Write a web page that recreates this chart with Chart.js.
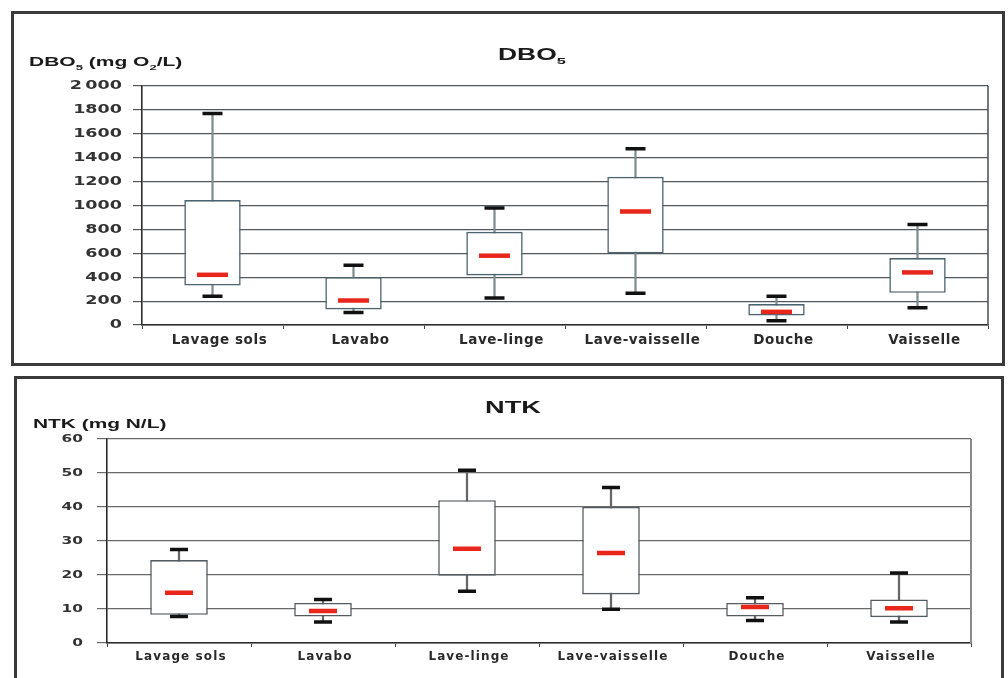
<!DOCTYPE html>
<html>
<head>
<meta charset="utf-8">
<script src="https://cdn.jsdelivr.net/npm/chart.js@4/dist/chart.umd.min.js"></script>
<style>
  html, body { margin: 0; padding: 0; background: #fff; width: 1008px; height: 678px; overflow: hidden; }
  .frame { position: absolute; box-sizing: border-box; pointer-events: none; }
</style>
</head>
<body>
<div style="position:absolute;left:0;top:0;width:1008px;height:370px;"><canvas id="c1" width="1008" height="370"></canvas></div>
<div style="position:absolute;left:0;top:370px;width:1008px;height:308px;"><canvas id="c2" width="1008" height="308"></canvas></div>
<div class="frame" style="left:11px;top:11px;width:994px;height:355px;border:3px solid #3a3a3a;"></div>
<div class="frame" style="left:14px;top:376px;width:990px;height:400px;border:3px solid #3a3a3a;"></div>
<script>
// ---------- data ----------
const categories = ['Lavage sols', 'Lavabo', 'Lave-linge', 'Lave-vaisselle', 'Douche', 'Vaisselle'];

const dboMin = [240, 105, 225, 265, 35, 145];
const dboQ1  = [330, 130, 415, 600, 80, 270];
const dboMed = [420, 205, 580, 950, 110, 440];
const dboQ3  = [1045, 400, 780, 1240, 175, 560];
const dboMax = [1770, 500, 980, 1475, 240, 840];

const ntkMin = [7.8, 6.2, 15.2, 9.9, 6.6, 6.2];
const ntkQ1  = [8.3, 7.8, 19.8, 14.3, 7.8, 7.6];
const ntkMed = [14.8, 9.4, 27.7, 26.5, 10.6, 10.2];
const ntkQ3  = [24.4, 11.8, 42.0, 40.0, 11.8, 12.8];
const ntkMax = [27.5, 12.8, 50.8, 45.7, 13.3, 20.6];

const dboTicks = { min: 0, max: 2000, step: 200 };
const ntkTicks = { min: 0, max: 60, step: 10 };

const FONT = '"Liberation Sans", Arial, sans-serif';
const TICKFONT = '"DejaVu Sans", "Liberation Sans", sans-serif';

// draw text with subscripts, horizontally stretched
function drawRich(ctx, x, y, parts, size, sx, color) {
  ctx.save();
  ctx.translate(x, y);
  ctx.scale(sx, 1);
  ctx.fillStyle = color;
  ctx.textBaseline = 'alphabetic';
  ctx.textAlign = 'left';
  let cx = 0;
  for (const p of parts) {
    const s = p.sub ? size * 0.62 : size;
    ctx.font = 'bold ' + s + 'px ' + FONT;
    ctx.fillText(p.t, cx, p.sub ? size * 0.28 : 0);
    cx += ctx.measureText(p.t).width;
  }
  ctx.restore();
}

function makeChart(id, cfg) {
  const ticks = cfg.ticks;
  const plugin = {
    id: 'deco',
    afterUpdate(chart) {
      const y = chart.scales.y, x = chart.scales.x;
      if (!y._patched) {
        const origY = y.drawLabels;
        y.drawLabels = function (area) {
          const ctx = this.ctx;
          const ax = this.right - cfg.yTickLen - cfg.yPad;
          ctx.save();
          ctx.translate(ax, 0); ctx.scale(cfg.ySx, 1); ctx.translate(-ax, 0);
          origY.call(this, area);
          ctx.restore();
        };
        y._patched = true;
      }
      if (!x._patched) {
        const origX = x.drawLabels;
        x.drawLabels = function (area) {
          const ctx = this.ctx;
          ctx.save();
          ctx.translate(cfg.xShift, 0);
          try { ctx.letterSpacing = cfg.xSpacing + 'px'; } catch (e) {}
          origX.call(this, area);
          ctx.restore();
        };
        x._patched = true;
      }
    },
    afterDraw(chart) {
      const ctx = chart.ctx, a = chart.chartArea;
      ctx.save();
      ctx.strokeStyle = cfg.rightColor;
      ctx.lineWidth = cfg.rightWidth;
      ctx.beginPath();
      ctx.moveTo(a.right, a.top);
      ctx.lineTo(a.right, a.bottom);
      ctx.stroke();
      ctx.restore();
      drawRich(ctx, cfg.title.x, cfg.title.y, cfg.title.parts, cfg.title.size, cfg.title.sx, '#1a1a1a');
      drawRich(ctx, cfg.axisTitle.x, cfg.axisTitle.y, cfg.axisTitle.parts, cfg.axisTitle.size, cfg.axisTitle.sx, '#1a1a1a');
    }
  };

  return new Chart(document.getElementById(id), {
    type: 'bar',
    data: {
      labels: categories,
      datasets: [
        { type: 'line', data: cfg.med, showLine: false, pointStyle: 'line', pointRadius: cfg.medR, pointBorderWidth: 4.5,
          pointBorderColor: '#e8261c', pointBackgroundColor: '#e8261c', order: 1 },
        { type: 'line', data: cfg.max, showLine: false, pointStyle: 'line', pointRadius: cfg.capR, pointBorderWidth: 3.5,
          pointBorderColor: '#111', order: 2 },
        { type: 'line', data: cfg.min, showLine: false, pointStyle: 'line', pointRadius: cfg.capR, pointBorderWidth: 3.5,
          pointBorderColor: '#111', order: 2 },
        { type: 'bar', data: cfg.q1.map((v, i) => [v, cfg.q3[i]]), backgroundColor: '#ffffff', borderColor: cfg.boxColor,
          borderWidth: 1.6, borderSkipped: false, barPercentage: 0.4, categoryPercentage: 1, grouped: false, order: 3 },
        { type: 'bar', data: cfg.min.map((v, i) => [v, cfg.max[i]]), backgroundColor: cfg.stemColor,
          barThickness: 1.6, grouped: false, order: 4 }
      ]
    },
    options: {
      responsive: false,
      animation: false,
      events: [],
      layout: { padding: cfg.padding },
      plugins: { legend: { display: false }, tooltip: { enabled: false } },
      scales: {
        x: {
          offset: true,
          afterFit(s) { s.height = cfg.xHeight; },
          grid: { display: true, drawOnChartArea: false, drawTicks: true, tickLength: 4, color: '#444', offset: true },
          border: { display: true, color: '#2c2c2c', width: 1.6 },
          ticks: { color: '#2a2a2a', font: { family: TICKFONT, size: cfg.xFont, weight: 'bold' }, padding: cfg.xPad, maxRotation: 0, autoSkip: false }
        },
        y: {
          min: ticks.min, max: ticks.max,
          afterFit(s) { s.width = cfg.yWidth; },
          afterBuildTicks(s) {
            const t = [];
            for (let v = ticks.min; v <= ticks.max + 1e-9; v += ticks.step) t.push({ value: v });
            s.ticks = t;
          },
          grid: { color: cfg.gridColor, lineWidth: 1.2, tickLength: cfg.yTickLen },
          border: { display: true, color: '#2c2c2c', width: 1.6 },
          ticks: {
            color: '#333',
            padding: cfg.yPad,
            font: { family: TICKFONT, size: cfg.yFont, weight: 'bold' },
            callback: cfg.tickFmt
          }
        }
      }
    },
    plugins: [plugin]
  });
}

makeChart('c1', {
  ticks: dboTicks,
  min: dboMin, q1: dboQ1, med: dboMed, q3: dboQ3, max: dboMax,
  padding: { top: 86, right: 13, left: 0, bottom: 0 },
  yWidth: 142, xHeight: 45, yTickLen: 9, yPad: 11, ySx: 1.35, yFont: 13,
  xFont: 13.5, xPad: 3, xSpacing: 0.6, xShift: 7,
  medR: 15.5, capR: 10,
  boxColor: '#4c6470', stemColor: '#7f8c92', gridColor: '#50575c',
  rightColor: '#50575c', rightWidth: 1.6,
  tickFmt: v => (v === 2000 ? '2\u2009000' : String(v)),
  title: { x: 498, y: 60, size: 16, sx: 1.65, parts: [{ t: 'DBO' }, { t: '5', sub: true }] },
  axisTitle: { x: 29, y: 66, size: 12.5, sx: 1.68,
    parts: [{ t: 'DBO' }, { t: '5', sub: true }, { t: ' (mg O' }, { t: '2', sub: true }, { t: '/L)' }] }
});

makeChart('c2', {
  ticks: ntkTicks,
  min: ntkMin, q1: ntkQ1, med: ntkMed, q3: ntkQ3, max: ntkMax,
  padding: { top: 69, right: 37, left: 0, bottom: 0 },
  yWidth: 107, xHeight: 35, yTickLen: 10, yPad: 14, ySx: 1.4, yFont: 11,
  xFont: 12, xPad: 3, xSpacing: 1.1, xShift: 2,
  medR: 14, capR: 9,
  boxColor: '#555b5f', stemColor: '#666', gridColor: '#6a6a6a',
  rightColor: '#8a8a8a', rightWidth: 2,
  tickFmt: v => String(v),
  title: { x: 485, y: 43, size: 16, sx: 1.7, parts: [{ t: 'NTK' }] },
  axisTitle: { x: 33, y: 58, size: 12.5, sx: 1.67, parts: [{ t: 'NTK (mg N/L)' }] }
});
</script>
</body>
</html>
